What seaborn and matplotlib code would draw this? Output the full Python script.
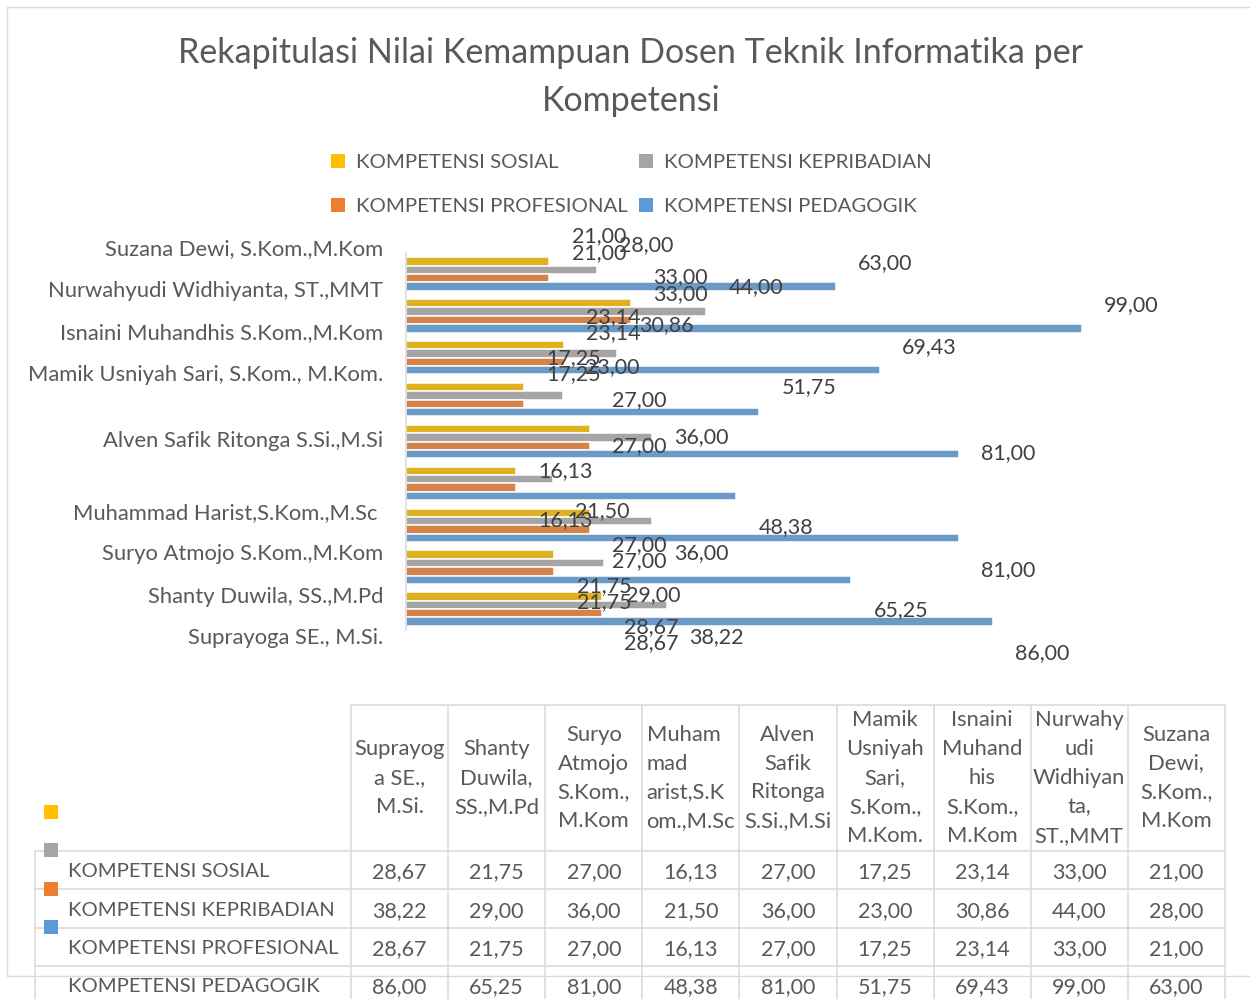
import matplotlib
matplotlib.use("Agg")
import matplotlib.pyplot as plt
from matplotlib.patches import Patch, Rectangle
import pandas as pd
import seaborn as sns

# ---- data (spreadsheet order) ----
dosen = [
    "Suprayoga SE., M.Si.",
    "Shanty Duwila, SS.,M.Pd",
    "Suryo Atmojo S.Kom.,M.Kom",
    "Muhammad Harist,S.Kom.,M.Sc ",
    "Alven Safik Ritonga S.Si.,M.Si",
    "Mamik Usniyah Sari, S.Kom., M.Kom.",
    "Isnaini Muhandhis S.Kom.,M.Kom",
    "Nurwahyudi Widhiyanta, ST.,MMT",
    "Suzana Dewi, S.Kom.,M.Kom",
]
header_wrapped = [
    "Suprayog\na SE.,\nM.Si.",
    "Shanty\nDuwila,\nSS.,M.Pd",
    "Suryo\nAtmojo\nS.Kom.,\nM.Kom",
    "Muham\nmad\narist,S.K\nom.,M.Sc",
    "Alven\nSafik\nRitonga\nS.Si.,M.Si",
    "Mamik\nUsniyah\nSari,\nS.Kom.,\nM.Kom.",
    "Isnaini\nMuhand\nhis\nS.Kom.,\nM.Kom",
    "Nurwahy\nudi\nWidhiyan\nta,\nST.,MMT",
    "Suzana\nDewi,\nS.Kom.,\nM.Kom",
]
kompetensi = [
    "KOMPETENSI SOSIAL",
    "KOMPETENSI KEPRIBADIAN",
    "KOMPETENSI PROFESIONAL",
    "KOMPETENSI PEDAGOGIK",
]
sosial = [28.67, 21.75, 27.00, 16.13, 27.00, 17.25, 23.14, 33.00, 21.00]
kepribadian = [38.22, 29.00, 36.00, 21.50, 36.00, 23.00, 30.86, 44.00, 28.00]
profesional = [28.67, 21.75, 27.00, 16.13, 27.00, 17.25, 23.14, 33.00, 21.00]
pedagogik = [86.00, 65.25, 81.00, 48.38, 81.00, 51.75, 69.43, 99.00, 63.00]

series = [sosial, kepribadian, profesional, pedagogik]
colors = ["#FFC000", "#A5A5A5", "#ED7D31", "#5B9BD5"]

# ---- layout: label anchors in category units (top row = 0) ----
name_pos = [-0.644, 0.358, 1.36, 2.363, 3.938, 5.656, 6.635, 7.661, 8.64]
value_pos = [
    [-0.955, 0.024, 0.979, 1.957, 2.959, 4.654, 6.420, 7.399, 8.377],
    [-0.740, 0.263, 1.169, 2.172, 3.842, 5.609, 6.611, 7.613, 8.616],
    [-0.549, 0.430, 1.360, 2.339, 4.057, 5.823, 6.802, 7.780, 8.759],
    [-0.310, 0.692, 1.695, 2.649, 4.224, 5.990, 7.017, 7.971, 8.998],
]

W, H = 1250, 999
TXT = "#595959"
LBL = "#404040"
GRID = "#D9D9D9"

sns.set_theme(style="white")
plt.rcParams["font.family"] = ["Lato", "DejaVu Sans"]

fig = plt.figure(figsize=(W / 100, H / 100), dpi=100)


def fx(px):
    return px / W


def fy(py):
    return 1 - py / H


# ---- bar chart ----
order = dosen[::-1]
long = pd.DataFrame(
    [(d, k, v) for k, vals in zip(kompetensi, series) for d, v in zip(dosen, vals)],
    columns=["dosen", "kompetensi", "nilai"],
)

ax = fig.add_axes([fx(406), fy(630), fx(1225) - fx(406), fy(253) - fy(630)])
sns.barplot(
    data=long, x="nilai", y="dosen", hue="kompetensi", order=order,
    hue_order=kompetensi, palette=colors, width=0.8, orient="h",
    edgecolor="white", linewidth=1.1, errorbar=None, legend=False, ax=ax,
)
ax.set_xlim(0, 120)
ax.set_ylim(8.5, -0.5)
ax.set_xlabel("")
ax.set_ylabel("")
ax.set_xticks([])
ax.set_yticks([])
for s in ["top", "right", "bottom"]:
    ax.spines[s].set_visible(False)
ax.spines["left"].set_color(GRID)
ax.spines["left"].set_linewidth(1.1)

for name, pos in zip(order, name_pos):
    ax.annotate(name, xy=(0, pos), xycoords=("axes fraction", "data"),
                xytext=(-16.5, 0), textcoords="offset points", ha="right",
                va="center_baseline", fontsize=15.8, color=TXT, annotation_clip=False)

for vals, poss in zip(series, value_pos):
    for v, pos in zip(vals[::-1], poss):
        ax.annotate(f"{v:.2f}".replace(".", ","), xy=(v, pos), xytext=(16, 0),
                    textcoords="offset points", ha="left", va="center_baseline",
                    fontsize=15.5, color=LBL, annotation_clip=False)

# ---- title ----
fig.text(fx(631), fy(77), "Rekapitulasi Nilai Kemampuan Dosen Teknik Informatika per\nKompetensi",
         ha="center", va="center", fontsize=24.5, color=TXT, linespacing=1.6)

# ---- legend ----
handles = [Patch(facecolor=c, edgecolor="none") for c in colors]
leg_kw = dict(frameon=False, fontsize=14.7, handlelength=0.68, handleheight=0.68,
              handletextpad=0.54, labelspacing=1.33, borderpad=0, borderaxespad=0,
              loc="upper left", labelcolor=TXT)
fig.legend([handles[0], handles[2]], [kompetensi[0], kompetensi[2]],
           bbox_to_anchor=(fx(331), fy(154)), **leg_kw)
fig.legend([handles[1], handles[3]], [kompetensi[1], kompetensi[3]],
           bbox_to_anchor=(fx(639), fy(154)), **leg_kw)

# ---- data table ----
tx = fig.add_axes([0, 0, 1, 1])
tx.set_xlim(0, W)
tx.set_ylim(H, 0)
tx.axis("off")

lw = 1.1
# outer chart border
tx.plot([7, 7, W + 5], [976, 7, 7], color=GRID, lw=1.0, solid_capstyle="butt")
tx.plot([7, W + 5], [976, 976], color=GRID, lw=1.0)

col_edges = [351 + 97.1 * k for k in range(10)]
row_edges = [851, 889.4, 927.8, 966.2, 1004.6]
tx.plot([col_edges[0], col_edges[-1]], [705, 705], color=GRID, lw=lw)
for x in col_edges:
    tx.plot([x, x], [705, H + 5], color=GRID, lw=lw)
tx.plot([35, 35], [851, H + 5], color=GRID, lw=lw)
for y in row_edges[:-1]:
    tx.plot([35, col_edges[-1]], [y, y], color=GRID, lw=lw)

for j, head in enumerate(header_wrapped):
    cx = (col_edges[j] + col_edges[j + 1]) / 2
    tx.text(cx, 778, head, ha="center", va="center", fontsize=15.8, color=TXT,
            linespacing=1.56, multialignment="left" if j == 3 else "center")

for i, (k, vals) in enumerate(zip(kompetensi, series)):
    cy = (row_edges[i] + row_edges[i + 1]) / 2
    tx.text(68, cy, k, ha="left", va="center_baseline", fontsize=14.6, color=TXT)
    for j, v in enumerate(vals):
        cx = (col_edges[j] + col_edges[j + 1]) / 2
        tx.text(cx, cy, f"{v:.2f}".replace(".", ","), ha="center",
                va="center_baseline", fontsize=15.5, color=TXT)
    tx.add_patch(Rectangle((44, 805 + 38.4 * i), 14, 14, facecolor=colors[i],
                           edgecolor="none", zorder=3))

fig.savefig("out.png", dpi=100)
